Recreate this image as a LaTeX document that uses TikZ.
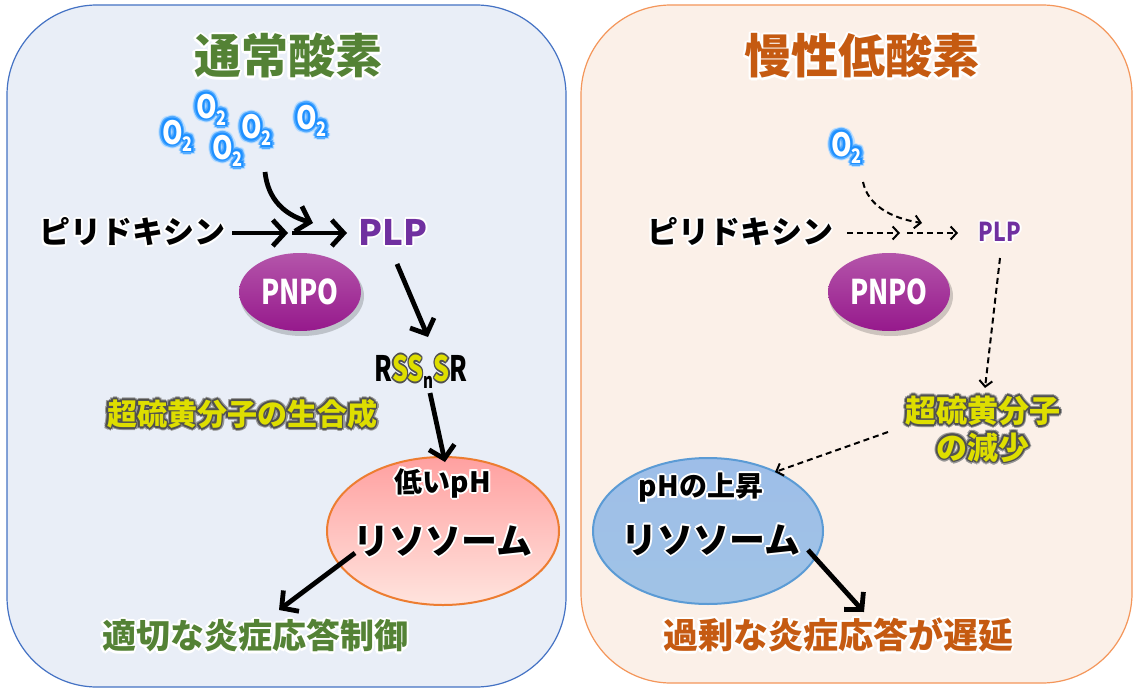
\documentclass[tikz,border=0pt]{standalone}
\usepackage{fontspec}
\setmainfont{Noto Sans CJK JP}
\usepackage{graphicx}
\usetikzlibrary{shapes.geometric,arrows.meta,calc}

\definecolor{leftfill}{RGB}{233,238,247}
\definecolor{leftline}{RGB}{68,114,196}
\definecolor{rightfill}{RGB}{251,240,232}
\definecolor{rightline}{RGB}{244,150,90}
\definecolor{tgreen}{RGB}{84,130,53}
\definecolor{torange}{RGB}{197,90,17}
\definecolor{plppurple}{RGB}{112,48,160}
\definecolor{sulfur}{RGB}{222,222,0}
\definecolor{sulfglow}{RGB}{80,80,80}
\definecolor{oblue}{RGB}{30,144,255}
\definecolor{pnpotop}{RGB}{180,85,170}
\definecolor{pnpobot}{RGB}{150,25,140}
\definecolor{pinktop}{RGB}{255,160,160}
\definecolor{pinkbot}{RGB}{255,228,222}
\definecolor{pinkline}{RGB}{237,125,49}
\definecolor{bluetop}{RGB}{158,190,232}
\definecolor{bluebot}{RGB}{160,195,230}
\definecolor{blueline}{RGB}{91,155,213}

% zero-width ring of copies used as a glow
\newcommand\ring[3]{\rlap{\color{#1}\foreach \a in {0,45,...,315}{\pgfmathsetlengthmacro\gx{#2*cos(\a)}\pgfmathsetlengthmacro\gy{#2*sin(\a)}\rlap{\hspace*{\gx}\raisebox{\gy}{#3}}}}}
\newcommand\glowtxt[3]{\ring{#1}{#2}{#3}#3}
\newcommand\Otwo{\scalebox{0.82}[1]{O}\raisebox{-7pt}{\fontsize{20}{20}\selectfont\scalebox{0.82}[1]{2}}}
\newcommand\Oglow{\ring{oblue!30}{4.8}{\Otwo}\ring{oblue!75}{3.3}{\Otwo}\ring{oblue}{1.8}{\Otwo}\Otwo}
\newcommand\sulf[1]{{\ring{sulfglow}{1.8}{#1}\color{sulfur}#1}}

\tikzset{
  panelL/.style={draw=leftline, fill=leftfill, line width=1.2pt, rounded corners=90pt},
  panelR/.style={draw=rightline, fill=rightfill, line width=1.2pt, rounded corners=90pt},
  jt/.style={inner sep=0pt, font=\bfseries},
  otwo/.style={inner sep=0pt, anchor=base west, text=white, font=\bfseries\fontsize{32}{32}\selectfont},
  pnpo/.style={ellipse, minimum width=122pt, minimum height=78pt, inner sep=0pt, top color=pnpotop, bottom color=pnpobot},
  pnposhadow/.style={ellipse, minimum width=124pt, minimum height=80pt, inner sep=0pt, fill=black, opacity=0.18},
  arr/.style={line width=4.8pt, -{Straight Barb[length=12pt, width=26pt]}},
  darr/.style={line width=2pt, dash pattern=on 6pt off 4pt, -{Straight Barb[length=6pt, width=13pt]}}
}

\begin{document}
\begin{tikzpicture}[x=1pt,y=-1pt]
\useasboundingbox (0,0) rectangle (1134,690);
\fill[white] (0,0) rectangle (1134,690);
\draw[panelL] (7,5) rectangle (566,687);
\draw[panelR] (581,5) rectangle (1132,683);

% ---------- titles ----------
\node[jt, text=tgreen, font=\bfseries\fontsize{47}{47}\selectfont] (titleL) at (288,56) {\glowtxt{white}{2.5}{通常酸素}};
\node[jt, text=torange, font=\bfseries\fontsize{47}{47}\selectfont] (titleR) at (862,56) {\glowtxt{white}{2.5}{慢性低酸素}};

% ---------- left: normoxia ----------
\node[otwo] (o2a) at (162,144) {\Oglow};
\node[otwo] (o2b) at (196,118) {\Oglow};
\node[otwo] (o2d) at (212,159) {\Oglow};
\node[otwo] (o2c) at (241,139) {\Oglow};
\node[otwo] (o2e) at (296,129) {\Oglow};

\node[jt, font=\bfseries\fontsize{31}{31}\selectfont] (pyrL) at (132,232) {\glowtxt{white}{2}{ピリドキシン}};
\node[jt, text=plppurple, font=\bfseries\fontsize{35}{35}\selectfont] (plpL) at (393,232) {\glowtxt{white}{2}{PLP}};
\node[pnposhadow] (pnpoLs) at (302,296) {};
\node[pnpo] (pnpoL) at (300,292) {};
\node[jt, text=white, font=\bfseries\fontsize{34}{34}\selectfont] (pnpoLt) at (pnpoL) {\scalebox{0.78}[1]{PNPO}};

\node[jt, font=\bfseries\fontsize{35}{35}\selectfont] (rss) at (421,371) {\scalebox{0.72}[1]{R\sulf{SS}\raisebox{-7pt}{\fontsize{21}{21}\selectfont n}\sulf{S}R}};
\node[jt, text=sulfur, font=\bfseries\fontsize{30}{30}\selectfont] (sulfL) at (242,414) {\ring{sulfglow!60}{3}{超硫黄分子の生合成}\ring{sulfglow}{1.8}{超硫黄分子の生合成}超硫黄分子の生合成};

\node[ellipse, minimum width=232pt, minimum height=148pt, inner sep=0pt, draw=pinkline, line width=2pt, top color=pinktop, bottom color=pinkbot] (lysoL) at (443,531) {};
\node[jt, font=\bfseries\fontsize{28}{28}\selectfont] (lowpH) at (443,483) {\glowtxt{white}{2}{低いpH}};
\node[jt, font=\bfseries\fontsize{36}{36}\selectfont] (lysoLt) at (443,541) {\glowtxt{white}{2}{リソソーム}};

\node[jt, text=tgreen, font=\bfseries\fontsize{34}{34}\selectfont] (outL) at (255,636) {\glowtxt{white}{2.5}{適切な炎症応答制御}};

\coordinate (o2Ls) at (265,172);
\coordinate (o2Le) at (313,223);
\coordinate (hL1s) at (232,233);
\coordinate (hL1e) at (288,233);
\coordinate (hL2s) at (292,233);
\coordinate (hL2e) at (347,233);
\coordinate (plpLs) at (397,264);
\coordinate (rssLe) at (428,337);
\coordinate (rssLs) at (430,393);
\coordinate (lysoLe) at (445,462);
\coordinate (lysoLs) at (355,553);
\coordinate (outLe) at (279,610);

\draw[arr] (o2Ls) .. controls (268,200) and (285,215) .. (o2Le);
\draw[arr] (hL1s) -- (hL1e);
\draw[arr] (hL2s) -- (hL2e);
\draw[arr] (plpLs) -- (rssLe);
\draw[arr] (rssLs) -- (lysoLe);
\draw[arr] (lysoLs) -- (outLe);

% ---------- right: chronic hypoxia ----------
\node[otwo] (o2r) at (831,156) {\Oglow};
\node[jt, font=\bfseries\fontsize{31}{31}\selectfont] (pyrR) at (740,232) {\glowtxt{white}{2}{ピリドキシン}};
\node[jt, text=plppurple, font=\bfseries\fontsize{26}{26}\selectfont] (plpR) at (1000,232) {\glowtxt{white}{1.8}{\scalebox{0.82}[1]{PLP}}};
\node[pnposhadow] (pnpoRs) at (891,296) {};
\node[pnpo] (pnpoR) at (889,292) {};
\node[jt, text=white, font=\bfseries\fontsize{34}{34}\selectfont] (pnpoRt) at (pnpoR) {\scalebox{0.78}[1]{PNPO}};

\node[jt, text=sulfur, align=center, font=\bfseries\fontsize{31}{35}\selectfont] (sulfR) at (983,429) {\ring{sulfglow!60}{3}{超硫黄分子}\ring{sulfglow}{1.8}{超硫黄分子}超硫黄分子\\\ring{sulfglow!60}{3}{の減少}\ring{sulfglow}{1.8}{の減少}の減少};

\node[ellipse, minimum width=230pt, minimum height=146pt, inner sep=0pt, draw=blueline, line width=2pt, top color=bluetop, bottom color=bluebot] (lysoR) at (708,531) {};
\node[jt, font=\bfseries\fontsize{28}{28}\selectfont] (risepH) at (701,488) {\glowtxt{white}{2}{pHの上昇}};
\node[jt, font=\bfseries\fontsize{36}{36}\selectfont] (lysoRt) at (711,540) {\glowtxt{white}{2}{リソソーム}};

\node[jt, text=torange, font=\bfseries\fontsize{35}{35}\selectfont] (outR) at (838,635) {\glowtxt{white}{2.5}{過剰な炎症応答が遅延}};

\coordinate (o2Rs) at (863,182);
\coordinate (o2Re) at (922,223);
\coordinate (hR1s) at (847,233);
\coordinate (hR1e) at (900,233);
\coordinate (hR2s) at (907,233);
\coordinate (hR2e) at (958,233);
\coordinate (plpRs) at (1000,258);
\coordinate (sulfRe) at (985,388);
\coordinate (sulfRs) at (888,432);
\coordinate (lysoRe) at (775,472);
\coordinate (lysoRs) at (808,550);
\coordinate (outRe) at (864,612);

\draw[darr] (o2Rs) .. controls (868,205) and (890,218) .. (o2Re);
\draw[darr] (hR1s) -- (hR1e);
\draw[darr] (hR2s) -- (hR2e);
\draw[darr] (plpRs) -- (sulfRe);
\draw[darr] (sulfRs) -- (lysoRe);
\draw[arr] (lysoRs) -- (outRe);
\end{tikzpicture}
\end{document}
